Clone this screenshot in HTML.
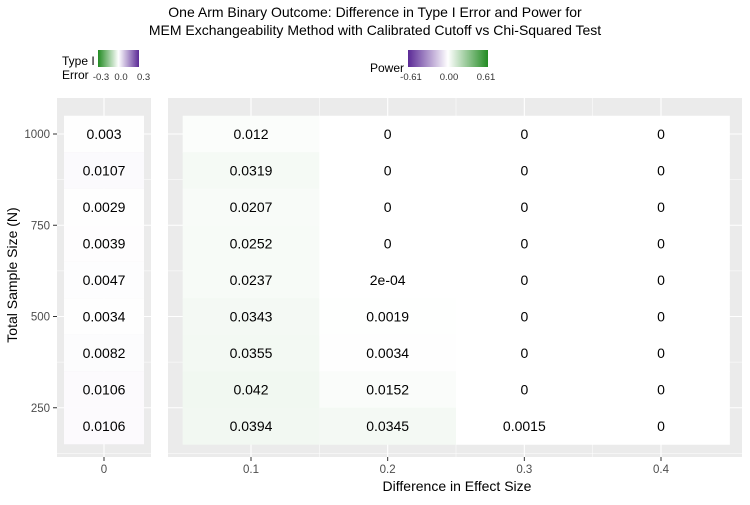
<!DOCTYPE html>
<html><head><meta charset="utf-8"><style>
body{margin:0;background:#fff;font-family:"Liberation Sans",sans-serif}
svg text{font-family:"Liberation Sans",sans-serif}
</style></head><body>
<svg id="c" width="750" height="500" xmlns="http://www.w3.org/2000/svg">
<defs>
<linearGradient id="gT" x1="0" x2="1"><stop offset="0" stop-color="#228b22"/><stop offset="0.5" stop-color="#ffffff"/><stop offset="1" stop-color="#5b2a96"/></linearGradient>
<linearGradient id="gP" x1="0" x2="1"><stop offset="0" stop-color="#5b2a96"/><stop offset="0.5" stop-color="#ffffff"/><stop offset="1" stop-color="#228b22"/></linearGradient>
</defs>
<text x="375" y="17" text-anchor="middle" font-size="14" fill="#000">One Arm Binary Outcome: Difference in Type I Error and Power for</text>
<text x="375" y="35" text-anchor="middle" font-size="14" fill="#000">MEM Exchangeability Method with Calibrated Cutoff vs Chi-Squared Test</text>
<g>
<text x="62" y="65" font-size="12">Type I</text>
<text x="62" y="79" font-size="12">Error</text>
<rect x="98" y="50" width="41" height="17" fill="url(#gT)"/>
<text x="101" y="80" font-size="9.5" fill="#333" text-anchor="middle">-0.3</text>
<text x="121" y="80" font-size="9.5" fill="#333" text-anchor="middle">0.0</text>
<text x="137" y="80" font-size="9.5" fill="#333" text-anchor="start">0.3</text>
</g>
<g>
<text x="370" y="72" font-size="12">Power</text>
<rect x="408" y="50" width="80" height="17" fill="url(#gP)"/>
<text x="411" y="80" font-size="9.5" fill="#333" text-anchor="middle">-0.61</text>
<text x="449" y="80" font-size="9.5" fill="#333" text-anchor="middle">0.00</text>
<text x="486" y="80" font-size="9.5" fill="#333" text-anchor="middle">0.61</text>
</g>
<g id="plot"></g>
<text x="457" y="491" text-anchor="middle" font-size="14">Difference in Effect Size</text>
<text transform="translate(17,275) rotate(-90)" text-anchor="middle" font-size="14">Total Sample Size (N)</text>
</svg>
<script>
const sizes=[1000,900,800,700,600,500,400,300,200];
const effects=[0.1,0.2,0.3,0.4];
const type1=[0.003,0.0107,0.0029,0.0039,0.0047,0.0034,0.0082,0.0106,0.0106];
const power01=[0.012,0.0319,0.0207,0.0252,0.0237,0.0343,0.0355,0.042,0.0394];
const power02=[0,0,0,0,0.0002,0.0019,0.0034,0.0152,0.0345];
const power03=[0,0,0,0,0,0,0,0,0.0015];
const power04=[0,0,0,0,0,0,0,0,0];
const powerLabels=[
["0.012","0.0319","0.0207","0.0252","0.0237","0.0343","0.0355","0.042","0.0394"],
["0","0","0","0","2e-04","0.0019","0.0034","0.0152","0.0345"],
["0","0","0","0","0","0","0","0","0.0015"],
["0","0","0","0","0","0","0","0","0"]];
const yTicks=[1000,750,500,250];
const NS="http://www.w3.org/2000/svg";
const g=document.getElementById('plot');
function el(t,a){const e=document.createElementNS(NS,t);for(const k in a)e.setAttribute(k,a[k]);g.appendChild(e);return e;}
const y=v=>134+(1000-v)*0.365;
const rowH=36.5;
const x=v=>251+(v-0.1)*1366.7;
const colW=136.7;
function mix(c,t){return 'rgb('+c.map(ch=>Math.round(255+(ch-255)*t)).join(',')+')';}
const green=[34,139,34],purple=[91,42,150];
let p=el('rect',{x:57,y:98,width:94,height:359,fill:'#ebebeb'});

p=el('rect',{x:168,y:98,width:574,height:359,fill:'#ebebeb'});

yTicks.forEach(t=>{
 el('line',{x1:57,x2:151,y1:y(t),y2:y(t),stroke:'#fff','stroke-width':1.1});
 el('line',{x1:168,x2:742,y1:y(t),y2:y(t),stroke:'#fff','stroke-width':1.1});
});
[1125,875,625,375,125].forEach(t=>{
 el('line',{x1:57,x2:151,y1:y(t),y2:y(t),stroke:'#fff','stroke-width':0.5});
 el('line',{x1:168,x2:742,y1:y(t),y2:y(t),stroke:'#fff','stroke-width':0.5});
});
el('line',{x1:104,x2:104,y1:98,y2:457,stroke:'#fff','stroke-width':1.1});
effects.forEach(e=>el('line',{x1:x(e),x2:x(e),y1:98,y2:457,stroke:'#fff','stroke-width':1.1}));
[0.15,0.25,0.35].forEach(e=>el('line',{x1:x(e),x2:x(e),y1:98,y2:457,stroke:'#fff','stroke-width':0.5}));
sizes.forEach((n,i)=>{
 const r=el('rect',{x:64,y:y(n)-rowH/2,width:80,height:rowH,fill:mix(purple,type1[i]/0.3*0.6)});
 
 const t=el('text',{x:104,y:y(n)+5,'text-anchor':'middle','font-size':14});t.textContent=String(type1[i]);
 
});
const powers=[power01,power02,power03,power04];
effects.forEach((e,j)=>{
 sizes.forEach((n,i)=>{
  const r=el('rect',{x:x(e)-colW/2,y:y(n)-rowH/2,width:colW+0.5,height:rowH+0.5,fill:mix(green,powers[j][i]/0.61*0.9)});
  
  const t=el('text',{x:x(e),y:y(n)+5,'text-anchor':'middle','font-size':14});t.textContent=powerLabels[j][i];
  
 });
});
yTicks.forEach(t=>{
 el('line',{x1:53,x2:57,y1:y(t),y2:y(t),stroke:'#333'});
 const tx=el('text',{x:50,y:y(t)+4,'text-anchor':'end','font-size':11.5,fill:'#4d4d4d'});tx.textContent=t;
 
});
el('line',{x1:104,x2:104,y1:457,y2:461,stroke:'#333'});
let tx=el('text',{x:104,y:473,'text-anchor':'middle','font-size':11.5,fill:'#4d4d4d'});tx.textContent='0';

effects.forEach(e=>{
 el('line',{x1:x(e),x2:x(e),y1:457,y2:461,stroke:'#333'});
 const t=el('text',{x:x(e),y:473,'text-anchor':'middle','font-size':11.5,fill:'#4d4d4d'});t.textContent=e;
 
});
</script>
</body></html>
